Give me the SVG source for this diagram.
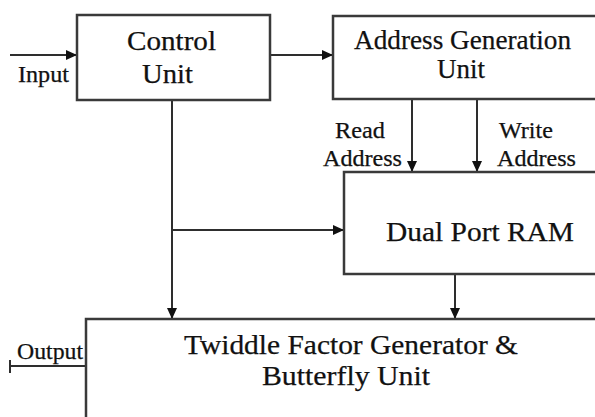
<svg xmlns="http://www.w3.org/2000/svg" width="595" height="417" viewBox="0 0 595 417">
<style>
.box{fill:#ffffff;stroke:#3a3a3a;stroke-width:2.5}
.wire{stroke:#2e2e2e;stroke-width:2;fill:none}
text{font-family:'Liberation Serif','DejaVu Serif',serif;fill:#111111;stroke:#111111;stroke-width:0.25}
.big{font-size:27.5px}
.sm{font-size:22.5px}
</style>
<defs>
<marker id="ah" markerUnits="userSpaceOnUse" markerWidth="12" markerHeight="10" refX="11" refY="5" orient="auto">
<path d="M0,0 L11,5 L0,10 z" fill="#111"/>
</marker>
</defs>
<rect width="595" height="417" fill="#ffffff"/>
<g id="connectors">
<line class="wire" x1="10" y1="55" x2="77" y2="55" marker-end="url(#ah)"/>
<line class="wire" x1="270" y1="55" x2="333" y2="55" marker-end="url(#ah)"/>
<line class="wire" x1="172" y1="100" x2="172" y2="319" marker-end="url(#ah)"/>
<line class="wire" x1="172" y1="230" x2="344" y2="230" marker-end="url(#ah)"/>
<line class="wire" x1="412" y1="99" x2="412" y2="172" marker-end="url(#ah)"/>
<line class="wire" x1="477" y1="99" x2="477" y2="172" marker-end="url(#ah)"/>
<line class="wire" x1="455" y1="274" x2="455" y2="319" marker-end="url(#ah)"/>
<line class="wire" x1="86" y1="366" x2="10" y2="366"/>
<line class="wire" x1="10" y1="360" x2="10" y2="373" stroke-width="2.5"/>
</g>
<g id="control-unit">
<rect class="box" x="77" y="15" width="193" height="85"/>
<text class="big" x="127" y="50" textLength="89" lengthAdjust="spacingAndGlyphs">Control</text>
<text class="big" x="142" y="83" textLength="51" lengthAdjust="spacingAndGlyphs">Unit</text>
</g>
<g id="address-generation-unit">
<rect class="box" x="333" y="16" width="275" height="83"/>
<text class="big" x="354" y="49" textLength="217" lengthAdjust="spacingAndGlyphs">Address Generation</text>
<text class="big" x="437" y="78" textLength="48" lengthAdjust="spacingAndGlyphs">Unit</text>
</g>
<g id="dual-port-ram">
<rect class="box" x="344" y="172" width="264" height="102"/>
<text class="big" x="386" y="241" textLength="188" lengthAdjust="spacingAndGlyphs">Dual Port RAM</text>
</g>
<g id="twiddle-butterfly">
<rect class="box" x="86" y="319" width="522" height="110"/>
<text class="big" x="184" y="354" textLength="334" lengthAdjust="spacingAndGlyphs">Twiddle Factor Generator &amp;</text>
<text class="big" x="262" y="385" textLength="168" lengthAdjust="spacingAndGlyphs">Butterfly Unit</text>
</g>
<g id="labels">
<text class="sm" x="18" y="82" textLength="51" lengthAdjust="spacingAndGlyphs">Input</text>
<text class="sm" x="335" y="138" textLength="50" lengthAdjust="spacingAndGlyphs">Read</text>
<text class="sm" x="323" y="166" textLength="79" lengthAdjust="spacingAndGlyphs">Address</text>
<text class="sm" x="499" y="138" textLength="54" lengthAdjust="spacingAndGlyphs">Write</text>
<text class="sm" x="497" y="166" textLength="79" lengthAdjust="spacingAndGlyphs">Address</text>
<text class="sm" x="17" y="359" textLength="66" lengthAdjust="spacingAndGlyphs">Output</text>
</g>
</svg>
